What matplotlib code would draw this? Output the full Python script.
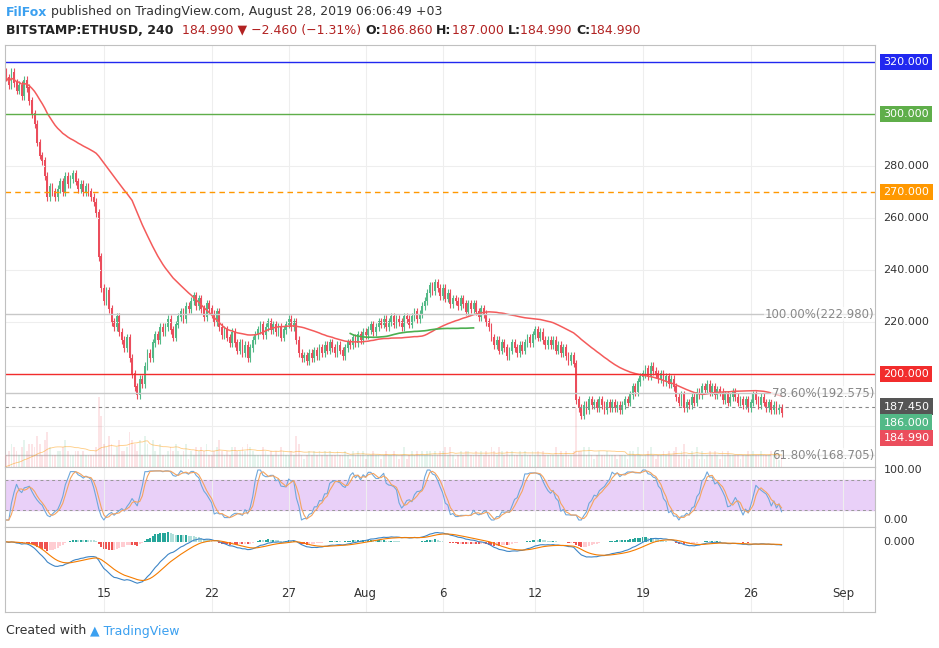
import numpy as np
import matplotlib
matplotlib.use("Agg")
import matplotlib.pyplot as plt

# 4H closes, starting Jul 8 16:00
closes = [314, 311,
 316, 312, 309, 311, 307, 313,
 310, 305, 300, 296, 289, 284,
 282, 276, 268, 272, 270, 268,
 271, 274, 270, 276, 273, 275,
 277, 274, 271, 273, 270, 272,
 270, 268, 266, 262, 245, 233,
 228, 232, 225, 220, 218, 222,
 216, 213, 210, 214, 206, 200,
 195, 192, 198, 196, 203, 208,
 206, 212, 215, 213, 218, 216,
 218, 221, 217, 214, 219, 222,
 224, 221, 226, 225, 228, 230,
 226, 229, 225, 222, 227, 225,
 223, 220, 224, 218, 215, 217,
 214, 212, 216, 212, 209, 212,
 208, 211, 206, 210, 213, 215,
 217, 219, 215, 218, 220, 217,
 219, 216, 218, 214, 217, 219,
 221, 218, 220, 213, 208, 206,
 207, 205, 208, 206, 209, 207,
 210, 208, 211, 209, 212, 210,
 208, 211, 209, 207, 210, 212,
 211, 214, 212, 215, 213, 216,
 215, 217, 219, 216, 218, 220,
 219, 221, 218, 220, 222, 219,
 221, 220, 218, 222, 221, 219,
 222, 224, 221, 223, 226, 228,
 231, 234, 232, 235, 233, 230,
 233, 229, 231, 227, 229, 228,
 226, 229, 227, 224, 227, 225,
 227, 224, 222, 225, 223, 220,
 218, 214, 211, 213, 209, 212,
 210, 207, 209, 212, 210, 208,
 211, 209, 212, 214, 212, 215,
 217, 214, 216, 213, 211, 213,
 211, 213, 209, 211, 208, 210,
 207, 205, 207, 204, 190, 187,
 184, 188, 186, 190, 188, 189,
 187, 190, 188, 186, 189, 187,
 189, 187, 188, 186, 188, 190,
 189, 192, 195, 193, 197, 199,
 200, 202, 199, 203, 201, 200,
 198, 200, 197, 199, 196, 198,
 195, 191, 189, 192, 187, 189,
 188, 191, 189, 193, 192, 195,
 194, 196, 193, 195, 192, 194,
 193, 190, 192, 189, 191, 193,
 191, 189, 190, 188, 190, 187,
 189, 192, 190, 188, 191, 189,
 187, 189, 186, 188, 186, 186.86,
 184.99]
first_open = 316
tick_labels = ["15", "22", "27", "Aug", "6", "12", "19", "26", "Sep"]
tick_idx = [38, 80, 110, 140, 170, 206, 248, 290, 326]
levels = [320, 300, 270, 200]
level_colors = ["#2128f0", "#5fae4a", "#ff9800", "#f22c2c"]
fib_levels = [222.98, 192.575, 168.705]
fib_labels = ["100.00%(222.980)", "78.60%(192.575)", "61.80%(168.705)"]

c = np.array(closes, float)
o = np.concatenate([[first_open], c[:-1]])
n = len(c)
x = np.arange(n)
hi = np.maximum(o, c) + 1.5
lo = np.minimum(o, c) - 1.5
up = c >= o
UP, DN = "#53b987", "#eb4d5c"

W, H = 939, 648
fig = plt.figure(figsize=(W/100, H/100), dpi=100)
L, R = 5/W, 875/W
def fy(p): return 1 - p/H
axp = fig.add_axes([L, fy(467), R-L, fy(45)-fy(467)])
axr = fig.add_axes([L, fy(527), R-L, fy(467)-fy(527)], sharex=axp)
axm = fig.add_axes([L, fy(612), R-L, fy(527)-fy(612)], sharex=axp)

vol = np.abs(c - o) + 1.0
vax = axp.twinx()
vax.bar(x, vol, width=0.7, color=np.where(up, UP, DN), alpha=0.15)
vma = np.convolve(vol, np.ones(20)/20, mode="full")[:n]
vax.plot(x, vma, color="#ff9800", lw=0.6, alpha=0.5)
vax.set_ylim(0, vol.max()*6)
vax.axis("off")

axp.vlines(x, lo, hi, color=np.where(up, UP, DN), lw=0.8)
axp.bar(x, np.abs(c-o)+0.2, bottom=np.minimum(o, c), width=0.7,
        color=np.where(up, UP, DN))
sma = np.array([c[max(0, i-49):i+1].mean() for i in range(n)])
axp.plot(x, sma, color="#f45b5b", lw=1.1)
ma100 = np.array([c[max(0, i-99):i+1].mean() for i in range(n)])
seg = (x >= 134) & (x <= 182)
axp.plot(x[seg], ma100[seg], color="#4caf50", lw=1.2)

for lv, col in zip(levels, level_colors):
    if lv == 270:
        axp.axhline(lv, color=col, lw=1, ls=(0, (4, 3)))
    else:
        axp.axhline(lv, color=col, lw=1)
for lv, lab in zip(fib_levels, fib_labels):
    axp.axhline(lv, color="#c8c8c8", lw=1)
    axp.text(338, lv, lab, ha="right", va="center", fontsize=8.5, color="#888888",
             bbox=dict(boxstyle="square,pad=0.05", fc="white", ec="none", alpha=0.6))
axp.axhline(187.45, color="#888888", lw=0.8, ls=(0, (3, 3)))
axp.set_ylim(164.2, 326.5)
axp.set_xlim(-0.5, 338.4)

def rlabel(ax, v, txt, bg, fg="white"):
    ax.annotate(txt, xy=(1, v), xycoords=("axes fraction", "data"), xytext=(6, 0),
                textcoords="offset points", va="center", ha="left", fontsize=8,
                color=fg, bbox=dict(boxstyle="square,pad=0.3", fc=bg, ec="none"),
                annotation_clip=False)
for v in [280, 260, 240, 220]:
    rlabel(axp, v, f"{v}.000", "none", "#333333")
rlabel(axp, 320, "320.000", level_colors[0])
rlabel(axp, 300, "300.000", level_colors[1])
rlabel(axp, 270, "270.000", level_colors[2])
rlabel(axp, 200, "200.000", level_colors[3])
rlabel(axp, 187.45, "187.450", "#555555")
rlabel(axp, 181.3, "186.000", UP)
rlabel(axp, 175.3, "184.990", DN)

d = np.diff(c, prepend=c[0])
g = np.where(d > 0, d, 0); l_ = np.where(d < 0, -d, 0)
def rma(a, p):
    out = np.zeros_like(a); out[0] = a[0]
    for i in range(1, len(a)): out[i] = (out[i-1]*(p-1) + a[i])/p
    return out
rs = rma(g, 14) / (rma(l_, 14) + 1e-9)
rsi = 100 - 100/(1+rs)
st = np.array([(rsi[i]-rsi[max(0,i-13):i+1].min())/(np.ptp(rsi[max(0,i-13):i+1])+1e-9)*100 for i in range(n)])
k = np.convolve(st, np.ones(3)/3, mode="full")[:n]
dd = np.convolve(k, np.ones(3)/3, mode="full")[:n]
axr.axhspan(20, 80, color="#e6c8f7", alpha=0.85)
axr.axhline(80, color="#999999", lw=0.7, ls=(0, (3, 3)))
axr.axhline(20, color="#999999", lw=0.7, ls=(0, (3, 3)))
axr.plot(x, k, color="#6fa8dc", lw=0.8)
axr.plot(x, dd, color="#f4a460", lw=0.8)
axr.set_ylim(-14, 106)
rlabel(axr, 100, "100.00", "none", "#333333")
rlabel(axr, 0, "0.00", "none", "#333333")

def ema(a, p):
    al = 2/(p+1); out = np.zeros_like(a); out[0] = a[0]
    for i in range(1, len(a)): out[i] = al*a[i] + (1-al)*out[i-1]
    return out
macd = ema(c, 12) - ema(c, 26)
sig = ema(macd, 9)
hist = macd - sig
prev = np.concatenate([[0], hist[:-1]])
hc = np.where(hist >= 0, np.where(hist >= prev, "#26a69a", "#b2dfdb"),
              np.where(hist < prev, "#ef5350", "#ffcdd2"))
axm.bar(x, hist, width=0.8, color=hc)
axm.plot(x, macd, color="#3d85c6", lw=0.8)
axm.plot(x, sig, color="#f57c00", lw=0.8)
axm.set_ylim(-33, 7)
rlabel(axm, 0, "0.000", "none", "#333333")

for ax in (axp, axr, axm):
    ax.set_xticks(tick_idx)
    ax.grid(True, color="#eeeeee", lw=0.8)
    ax.tick_params(length=0)
    for s in ax.spines.values(): s.set_color("#c0c0c0"); s.set_linewidth(0.8)
axp.set_yticks([180, 200, 220, 240, 260, 280, 300, 320]); axp.set_yticklabels([])
axr.set_yticks([]); axm.set_yticks([])
axp.tick_params(labelbottom=False); axr.tick_params(labelbottom=False)
axm.set_xticklabels(tick_labels, fontsize=8.5, color="#333333")
axm.tick_params(axis="x", pad=-18)

fig.canvas.draw()
rend = fig.canvas.get_renderer()
def row(y, parts):
    xx = 6
    for txt, col, bold in parts:
        t = fig.text(xx/W, fy(y), txt, color=col, fontsize=9, va="center",
                     fontweight="bold" if bold else "normal")
        xx += t.get_window_extent(rend).width
row(12, [("FilFox", "#3ba0f0", True), (" published on TradingView.com, August 28, 2019 06:06:49 +03", "#333333", False)])
row(30, [("BITSTAMP:ETHUSD, 240 ", "#222222", True), (" 184.990 \u25bc \u22122.460 (\u22121.31%) ", "#b22222", False),
         ("O:", "#222222", True), ("186.860 ", "#b22222", False), ("H:", "#222222", True), ("187.000 ", "#b22222", False),
         ("L:", "#222222", True), ("184.990 ", "#b22222", False), ("C:", "#222222", True), ("184.990", "#b22222", False)])
row(631, [("Created with ", "#333333", False), ("\u25b2 TradingView", "#3ba0f0", False)])
fig.savefig("out.png", dpi=100)
